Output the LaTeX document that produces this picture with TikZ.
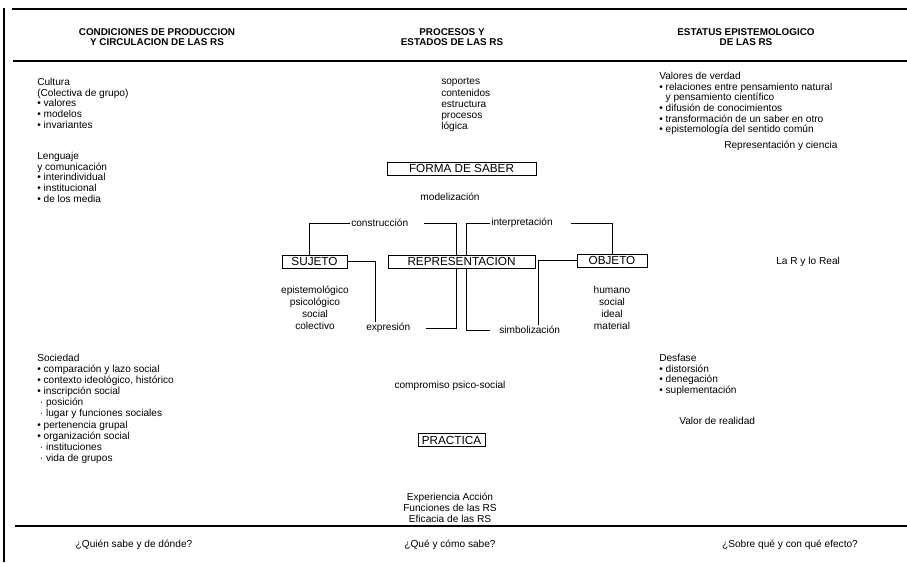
\documentclass[tikz,border=0pt]{standalone}
\usepackage{fontspec}
\setmainfont{Liberation Sans}
\usetikzlibrary{positioning}
\tikzset{
  caja/.style={draw, line width=0.6pt, inner sep=0pt, minimum height=9.75pt, font=\fontsize{8.8}{10}\selectfont},
  txt/.style={inner sep=0.75pt, align=left, font=\fontsize{7.6}{8}\selectfont},
  cab/.style={inner sep=0.75pt, align=center, font=\fontsize{7.4}{7.8}\selectfont\bfseries},
  regla/.style={line width=1.3pt},
  enlace/.style={line width=0.6pt},
}

\begin{document}
\begin{tikzpicture}[x=0.75pt,y=0.75pt,yscale=-1,xscale=1]
\useasboundingbox (0,0) rectangle (907,562);

%Straight Lines: rules of the table
\draw [regla] (12,9) -- (907,9) ;
\draw [regla] (13,61) -- (907,61) ;
\draw [regla] (15,526) -- (907,526) ;
\draw [line width=1.2pt] (4,8) -- (4,562) ;

% Text Node: headers
\node [cab] (cabcond) at (157,37) {CONDICIONES DE PRODUCCION\\Y CIRCULACION DE LAS RS};
\node [cab] (cabproc) at (452,37) {PROCESOS Y\\ESTADOS DE LAS RS};
\node [cab] (cabestat) at (746,37) {ESTATUS EPISTEMOLOGICO\\DE LAS RS};

% Text Node: left column
\node [txt, anchor=north west] (cultura) at (36,77) {Cultura\\(Colectiva de grupo)\\• valores\\• modelos\\• invariantes};
\node [txt, anchor=north west] (lenguaje) at (36,151) {Lenguaje\\y comunicación\\• interindividual\\• institucional\\• de los media};
\node [txt, anchor=north west, font=\fontsize{7.6}{8.3}\selectfont] (sociedad) at (36,353) {Sociedad\\• comparación y lazo social\\• contexto ideológico, histórico\\• inscripción social\\\hspace{2pt}· posición\\\hspace{2pt}· lugar y funciones sociales\\• pertenencia grupal\\• organización social\\\hspace{2pt}· instituciones\\\hspace{2pt}· vida de grupos};

% Text Node: middle column
\node [txt, anchor=north west, font=\fontsize{7.6}{8.4}\selectfont] (soportes) at (440,77) {soportes\\contenidos\\estructura\\procesos\\lógica};
\node [txt] (modeliz) at (450,197) {modelización};
\node [txt, anchor=west] (constr) at (350,223) {construcción};
\node [txt, anchor=west] (interp) at (490,223) {interpretación};
\node [txt, anchor=north, align=center, font=\fontsize{7.6}{9}\selectfont] (atrsuj) at (315,285) {epistemológico\\psicológico\\social\\colectivo};
\node [txt, anchor=north, align=center, font=\fontsize{7.6}{9}\selectfont] (atrobj) at (612,285) {humano\\social\\ideal\\material};
\node [txt, anchor=west] (expres) at (365,328) {expresión};
\node [txt, anchor=west] (simbol) at (498,330) {simbolización};
\node [txt] (compromiso) at (450,386) {compromiso psico-social};
\node [txt, align=center, font=\fontsize{7.6}{8.2}\selectfont] (experiencia) at (450,508) {Experiencia Acción\\Funciones de las RS\\Eficacia de las RS};

% Text Node: right column
\node [txt, anchor=north west] (valores) at (658,71) {Valores de verdad\\• relaciones entre pensamiento natural\\\phantom{• }y pensamiento científico\\• difusión de conocimientos\\• transformación de un saber en otro\\• epistemología del sentido común};
\node [txt, anchor=west] (ciencia) at (723,146) {Representación y ciencia};
\node [txt, anchor=west] (real) at (775,262) {La R y lo Real};
\node [txt, anchor=north west] (desfase) at (658,353) {Desfase\\• distorsión\\• denegación\\• suplementación};
\node [txt, anchor=west] (realidad) at (678,421) {Valor de realidad};

% Text Node: questions
\node [txt] (quien) at (134,545) {¿Quién sabe y de dónde?};
\node [txt] (que) at (450,545) {¿Qué y cómo sabe?};
\node [txt] (sobre) at (790,545) {¿Sobre qué y con qué efecto?};

%Shape: Rectangle boxes
\node [caja, minimum width=111.75pt] (forma) at (461.5,168.5) {FORMA DE SABER};
\node [caja, minimum width=110.25pt] (repres) at (461.5,261.5) {REPRESENTACION};
\node [caja, minimum width=48.75pt] (sujeto) at (314.5,261.5) {SUJETO};
\node [caja, minimum width=52.5pt] (objeto) at (612,260.5) {OBJETO};
\node [caja, minimum width=50.25pt] (practica) at (451.5,440) {PRACTICA};

%Straight Lines: links
\draw [enlace] ([xshift=-4pt]sujeto.north) |- (constr.west) ;
\draw [enlace] ([xshift=11pt]constr.east) -| ([xshift=-3.75pt]repres.north) ;
\draw [enlace] ([xshift=3.75pt]repres.north) |- (interp.west) ;
\draw [enlace] ([xshift=13pt]interp.east) -| (objeto.north) ;
\draw [enlace] (sujeto.east) -| ([xshift=7.5pt]expres.north west) ;
\draw [enlace] ([xshift=-3.75pt]repres.south) |- ([xshift=11pt]expres.east) ;
\draw [enlace] ([xshift=3.75pt]repres.south) |- ([xshift=-6pt]simbol.west) ;
\draw [enlace] (objeto.west) -| ([xshift=-17pt]simbol.north east) ;

\end{tikzpicture}
\end{document}
